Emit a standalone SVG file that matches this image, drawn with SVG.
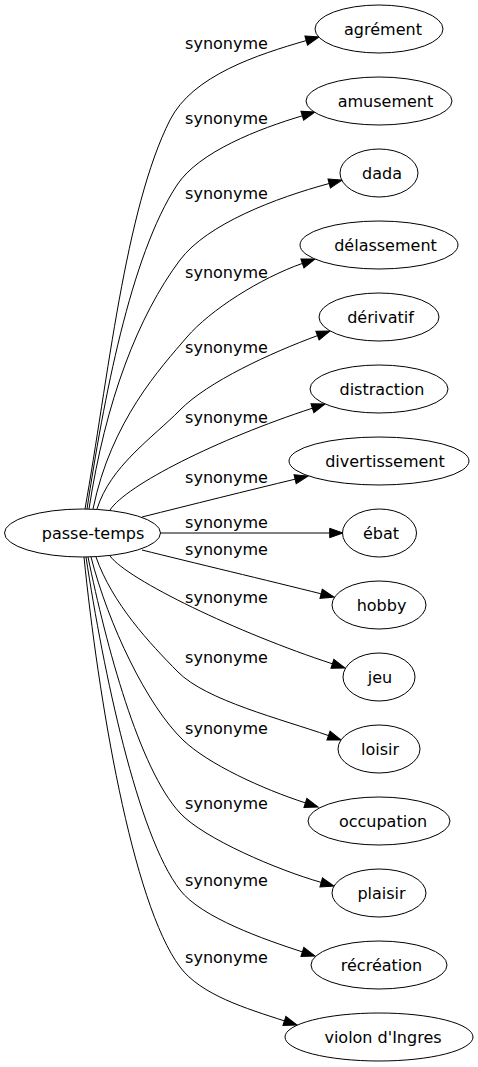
<svg xmlns="http://www.w3.org/2000/svg" width="478" height="1067" viewBox="0 0 478 1067">
<style>
text{font-family:"DejaVu Sans","Liberation Sans",sans-serif;font-size:16px;fill:#000;text-anchor:middle}
.node ellipse{fill:#fff;stroke:#000;stroke-width:1}
#edges path{fill:none;stroke:#000;stroke-width:1;marker-end:url(#ah)}
</style>
<defs>
<marker id="ah" markerUnits="userSpaceOnUse" markerWidth="15" markerHeight="11" refX="0" refY="5" orient="auto" overflow="visible">
<path d="M0,0.3 L13.3,5 L0,9.7 Z" fill="#000" stroke="#000" stroke-width="1"/>
</marker>
</defs>
<rect width="478" height="1067" fill="#fff"/>
<g id="edges">
<path d="M85,509 C107.8,381 125,209 170,120 C192.5,75.5 257.9,54.5 306.2,40.6"/>
<path d="M87,509 C103.4,401 130.3,256 177,185 C199,151.6 259.2,128.7 302.3,115.8"/>
<path d="M89,509 C105.5,401 138,316 180,260 C207,224 276.1,197.8 329.2,183.5"/>
<path d="M93,509 C111,420.8 161,367.4 187,337 C209.8,310.4 259.9,278.3 302.4,263.4"/>
<path d="M97,509 C110.5,466 152,438.4 180,410 C208,381.6 270.6,353 317.5,335.6"/>
<path d="M110,510 C126.5,485 217.4,439.2 312.4,408.2"/>
<path d="M142,517 C190,505 250,490 295.1,479.2"/>
<path d="M160,533 L329.7,533"/>
<path d="M142,550 C190,562 270,581 321.1,593.8"/>
<path d="M110,556 C128,580 237.4,632.8 332.4,663.8"/>
<path d="M96,557 C112.5,604 150,643.6 178,672 C206,700.4 281.5,719.1 328.5,735.6"/>
<path d="M91,557 C108.5,624.9 147,705.5 183,740 C208.2,764.2 262.6,789 305.4,802.9"/>
<path d="M88,557 C106,645 139.2,769.2 180,813 C203.8,838.6 277.9,870.1 321.2,882.4"/>
<path d="M86,557 C103.3,670.9 137.3,834.7 180,890 C201.4,917.7 264.4,939.5 302.4,951.9"/>
<path d="M84,557 C98,696.3 132,903 180,967 C201,995 246.4,1008.5 284.4,1020.9"/>
<g id="edge-labels">
<text x="226.5" y="49">synonyme</text>
<text x="226.5" y="124">synonyme</text>
<text x="226.5" y="199">synonyme</text>
<text x="226.5" y="278">synonyme</text>
<text x="226.5" y="353">synonyme</text>
<text x="226.5" y="423">synonyme</text>
<text x="226.5" y="483">synonyme</text>
<text x="226.5" y="528">synonyme</text>
<text x="226.5" y="555">synonyme</text>
<text x="226.5" y="603">synonyme</text>
<text x="226.5" y="663">synonyme</text>
<text x="226.5" y="734">synonyme</text>
<text x="226.5" y="809">synonyme</text>
<text x="226.5" y="886">synonyme</text>
<text x="226.5" y="963">synonyme</text>
</g>
</g>
<g id="passe-temps" class="node"><ellipse cx="82.5" cy="533" rx="78" ry="24"/><text x="93" y="539">passe-temps</text></g>
<g id="agrement" class="node"><ellipse cx="379" cy="29" rx="64" ry="24"/><text x="383" y="35">agrément</text></g>
<g id="amusement" class="node"><ellipse cx="379" cy="101" rx="73" ry="24"/><text x="385.5" y="107">amusement</text></g>
<g id="dada" class="node"><ellipse cx="379" cy="173" rx="39" ry="24"/><text x="382" y="179">dada</text></g>
<g id="delassement" class="node"><ellipse cx="379" cy="245" rx="79" ry="24"/><text x="385.5" y="251">délassement</text></g>
<g id="derivatif" class="node"><ellipse cx="379" cy="317" rx="60" ry="24"/><text x="380.5" y="323">dérivatif</text></g>
<g id="distraction" class="node"><ellipse cx="379" cy="389" rx="69" ry="24"/><text x="382" y="395">distraction</text></g>
<g id="divertissement" class="node"><ellipse cx="379" cy="461" rx="90" ry="24"/><text x="385" y="467">divertissement</text></g>
<g id="ebat" class="node"><ellipse cx="379.5" cy="533" rx="37" ry="24"/><text x="381" y="539">ébat</text></g>
<g id="hobby" class="node"><ellipse cx="379" cy="605" rx="47" ry="24"/><text x="381.5" y="611">hobby</text></g>
<g id="jeu" class="node"><ellipse cx="379" cy="677" rx="36" ry="24"/><text x="380" y="683">jeu</text></g>
<g id="loisir" class="node"><ellipse cx="379" cy="749" rx="41" ry="24"/><text x="380" y="755">loisir</text></g>
<g id="occupation" class="node"><ellipse cx="379" cy="821" rx="71" ry="24"/><text x="383" y="827">occupation</text></g>
<g id="plaisir" class="node"><ellipse cx="379" cy="893" rx="47" ry="24"/><text x="381.5" y="899">plaisir</text></g>
<g id="recreation" class="node"><ellipse cx="379" cy="965" rx="68" ry="24"/><text x="381.5" y="971">récréation</text></g>
<g id="violon" class="node"><ellipse cx="379" cy="1037" rx="94" ry="24"/><text x="383" y="1043">violon d'Ingres</text></g>
</svg>
